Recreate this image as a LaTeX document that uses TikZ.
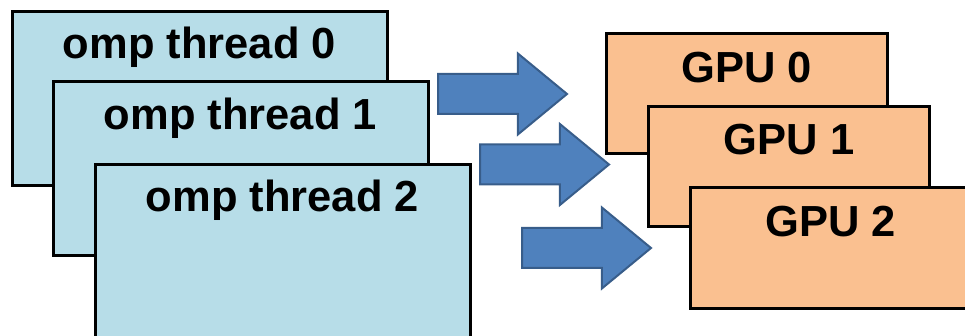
\documentclass[tikz,border=0pt]{standalone}
\usepackage{fontspec}
\setmainfont{Liberation Sans}
\usetikzlibrary{shapes.arrows}
\definecolor{threadblue}{HTML}{B7DDE8}
\definecolor{gpuorange}{HTML}{FAC090}
\definecolor{arrowfill}{HTML}{4F81BD}
\definecolor{arrowline}{HTML}{385D8A}
\begin{document}
\begin{tikzpicture}[x=1pt,y=-1pt,
    threadbox/.style={draw=black, line width=3pt, fill=threadblue,
      minimum width=375pt, minimum height=174pt, inner sep=0pt},
    gpubox/.style={draw=black, line width=3pt, fill=gpuorange,
      minimum width=281pt, minimum height=120pt, inner sep=0pt},
    boxtext/.style={anchor=base, inner sep=0pt,
      font=\fontsize{43.5}{50}\selectfont\bfseries},
    blockarrow/.style={single arrow, draw=arrowline, line width=2pt,
      fill=arrowfill, anchor=tail, inner xsep=0pt, inner ysep=19pt,
      minimum height=129pt, single arrow head extend=20.5pt,
      single arrow tip angle=79}]
    \useasboundingbox (0,0) rectangle (965,336);
    \clip (0,0) rectangle (965,336);
    % openmp threads, stacked
    \node[threadbox] (th0) at (199.5,98.5) {};
    \node[boxtext] (tt0) at ([yshift=-49pt]th0.north) {omp thread 0};
    \node[threadbox] (th1) at (240.5,169) {};
    \node[boxtext] (tt1) at ([yshift=-49pt]th1.north) {omp thread 1};
    \node[threadbox] (th2) at (282.5,252) {};
    \node[boxtext] (tt2) at ([yshift=-48pt]th2.north) {omp thread 2};
    % block arrows
    \node[blockarrow] (ar0) at (437,94) {};
    \node[blockarrow] (ar1) at (479,164.5) {};
    \node[blockarrow] (ar2) at (521,248) {};
    % gpus, stacked
    \node[gpubox] (g0) at (746.5,94) {};
    \node[boxtext] (gt0) at ([yshift=-50pt]g0.north) {GPU 0};
    \node[gpubox] (g1) at (789,166.5) {};
    \node[boxtext] (gt1) at ([yshift=-50pt]g1.north) {GPU 1};
    \node[gpubox] (g2) at (830.5,248) {};
    \node[boxtext] (gt2) at ([yshift=-50pt]g2.north) {GPU 2};
\end{tikzpicture}
\end{document}
